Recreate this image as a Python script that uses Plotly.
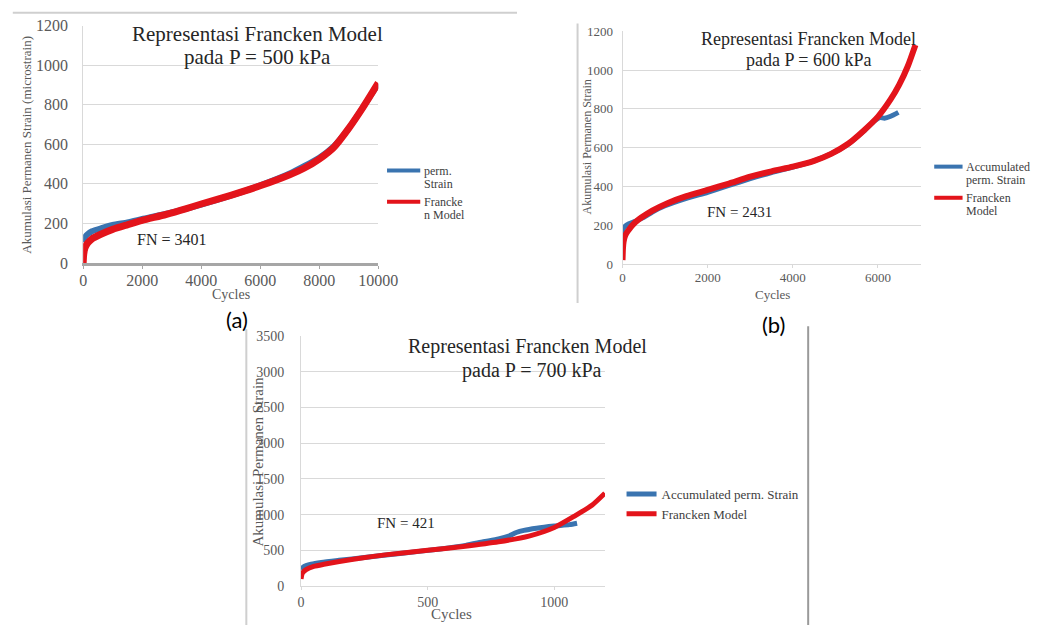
import plotly.graph_objects as go

W, H = 1049, 634

# ---- Panel (a): P = 500 kPa ----
a_meas_cycles = [0, 10, 50, 150, 300, 600, 1000, 1500, 2000, 3000, 4000, 5000, 6000, 7000, 8000, 8500, 9000, 9500, 10000]
a_meas_strain = [105, 115, 128, 145, 160, 175, 192, 205, 222, 255, 295, 340, 392, 452, 532, 590, 680, 790, 905]
a_model_cycles = [0, 20, 60, 150, 300, 600, 1000, 1500, 2000, 2800, 3500, 4000, 5000, 6000, 7000, 7500, 8000, 8500, 9000, 9500, 10000]
a_model_strain = [0, 45, 75, 100, 122, 145, 170, 193, 215, 245, 275, 298, 342, 390, 446, 480, 525, 585, 680, 790, 910]

# ---- Panel (b): P = 600 kPa ----
b_meas_cycles = [0, 15, 60, 150, 300, 500, 700, 1000, 1500, 2000, 2500, 3000, 3500, 4000, 4500, 4900, 5300, 5650, 5900, 6050, 6150, 6300, 6480]
b_meas_strain = [150, 180, 195, 208, 220, 240, 268, 300, 338, 370, 405, 440, 472, 500, 532, 568, 618, 682, 735, 755, 752, 762, 782]
b_model_cycles = [0, 10, 25, 60, 120, 300, 700, 1070, 1500, 2000, 2500, 3000, 3500, 4000, 4500, 4900, 5300, 5650, 6000, 6300, 6500, 6700, 6880]
b_model_strain = [20, 80, 115, 145, 168, 215, 275, 315, 350, 382, 415, 450, 478, 502, 532, 568, 620, 685, 760, 850, 925, 1020, 1130]

# ---- Panel (c): P = 700 kPa ----
c_meas_cycles = [0, 10, 40, 80, 150, 250, 400, 550, 650, 720, 780, 820, 850, 880, 930, 1000, 1060, 1090]
c_meas_strain = [230, 270, 305, 330, 360, 400, 460, 520, 570, 620, 660, 700, 750, 780, 810, 840, 860, 880]
c_model_cycles = [0, 5, 20, 50, 90, 200, 340, 500, 640, 780, 900, 1000, 1080, 1150, 1200]
c_model_strain = [100, 180, 230, 275, 305, 372, 440, 500, 555, 620, 700, 820, 980, 1135, 1300]

panel_titles = [("Representasi Francken Model", "pada P = 500 kPa"),
                ("Representasi Francken Model", "pada P = 600 kPa"),
                ("Representasi Francken Model", "pada P = 700 kPa")]
fn_labels = ["FN = 3401", "FN = 2431", "FN = 421"]
a_names = [("perm.", "Strain"), ("Francke", "n Model")]
b_names = [("Accumulated", "perm. Strain"), ("Francken", "Model")]
c_names = ["Accumulated perm. Strain", "Francken Model"]
y_titles = ["Akumulasi Permanen Strain (microstrain)", "Akumulasi Permanen Strain", "Akumulasi Permanen Strain"]
x_title = "Cycles"
panel_tags = ["(a)", "(b)"]

BLUE = "#3a74b0"
RED = "#e3141b"
GRID = "#d9d9d9"
TXT = "#595959"
LEG = "#404040"
SERIF = "Liberation Serif"


def px(x):
    return x / W


def py(y):
    return 1 - y / H


fig = go.Figure()

panels = [
    ("x", "y", a_meas_cycles, a_meas_strain, a_model_cycles, a_model_strain,
     ["<br>".join(n) for n in a_names], 6, 7, False),
    ("x2", "y2", b_meas_cycles, b_meas_strain, b_model_cycles, b_model_strain,
     ["<br>".join(n) for n in b_names], 5, 6, False),
    ("x3", "y3", c_meas_cycles, c_meas_strain, c_model_cycles, c_model_strain, c_names, 5, 5, True),
]
for xa, ya, mx, my, fx, fy, names, wb, wr, show in panels:
    fig.add_trace(go.Scatter(x=mx, y=my, mode="lines", name=names[0], xaxis=xa, yaxis=ya,
                             showlegend=show,
                             line=dict(color=BLUE, width=wb, shape="spline", smoothing=0.6)))
    fig.add_trace(go.Scatter(x=fx, y=fy, mode="lines", name=names[1], xaxis=xa, yaxis=ya,
                             showlegend=show,
                             line=dict(color=RED, width=wr, shape="spline", smoothing=0.6)))


def yaxis(dom, rng, dtick, size, anchor, standoff):
    return dict(domain=dom, range=rng, dtick=dtick, anchor=anchor, showgrid=True, gridcolor=GRID,
                gridwidth=1, zeroline=False, showline=True, linecolor=GRID, linewidth=1, ticks="",
                tickformat="d", ticklabelstandoff=standoff,
                tickfont=dict(family=SERIF, size=size, color=TXT), fixedrange=True)


def xaxis(dom, rng, dtick, size, anchor, lc, lw, standoff):
    return dict(domain=dom, range=rng, dtick=dtick, anchor=anchor, showgrid=False, zeroline=False,
                showline=True, linecolor=lc, linewidth=lw, ticks="outside", ticklen=3, tickcolor=lc,
                tickformat="d", ticklabelstandoff=standoff,
                tickfont=dict(family=SERIF, size=size, color=TXT), fixedrange=True)


fig.update_layout(
    width=W, height=H, margin=dict(l=0, r=0, t=0, b=0),
    paper_bgcolor="white", plot_bgcolor="white",
    xaxis=xaxis([px(81), px(383)], [0, 10000], 2000, 16, "y", "#a6a6a6", 3, -2),
    yaxis=yaxis([py(262), py(18)], [0, 1200], 200, 16, "x", 11),
    xaxis2=xaxis([px(633), px(938)], [0, 7000], 2000, 13, "y2", GRID, 1, -2),
    yaxis2=yaxis([py(263), py(24)], [0, 1200], 200, 13, "x2", 6),
    xaxis3=xaxis([px(304), px(615)], [0, 1200], 500, 14, "y3", GRID, 1, 0),
    yaxis3=yaxis([py(594), py(337)], [0, 3500], 500, 14, "x3", 13),
    legend=dict(x=px(632), y=py(484), xanchor="left", yanchor="top",
                font=dict(family=SERIF, size=13, color=LEG), bgcolor="rgba(0,0,0,0)",
                tracegroupgap=0, itemclick=False),
)

annotations = []


def text(x, y, s, size, color="#262626", family=SERIF, angle=0, anchor="center"):
    annotations.append(dict(x=px(x), y=py(y), xref="paper", yref="paper", text=s, showarrow=False,
                            xanchor=anchor, yanchor="middle", textangle=angle,
                            font=dict(family=family, size=size, color=color)))


# panel titles
text(259, 27, panel_titles[0][0], 21)
text(259, 50, panel_titles[0][1], 21)
text(823, 32, panel_titles[1][0], 18)
text(823, 53, panel_titles[1][1], 18)
text(536, 348, panel_titles[2][0], 20)
text(540, 372, panel_titles[2][1], 20)

# FN labels
text(171, 238, fn_labels[0], 16)
text(753, 210, fn_labels[1], 15)
text(411, 529, fn_labels[2], 15)

# axis titles
text(23, 140, y_titles[0], 13, TXT, angle=-90)
text(597, 143, y_titles[1], 12, TXT, angle=-90)
text(259, 466, y_titles[2], 15, TXT, angle=-90)
text(232, 294, x_title, 14, TXT)
text(787, 294, x_title, 13, TXT)
text(458, 623, x_title, 15, TXT)

# panel tags
text(238, 320, panel_tags[0], 22, "#000000", "Lato")
text(788, 325, panel_tags[1], 22, "#000000", "Lato")

# two-line keys for panels (a) and (b): (key line x0, x1, text x, rows)
keys = [
    (392, 426, 428, [(167, BLUE, a_names[0]), (199, RED, a_names[1])]),
    (952, 981, 982, [(163, BLUE, b_names[0]), (195, RED, b_names[1])]),
]
key_shapes = []
for kx0, kx1, tx, rows in keys:
    for yk, col, (l1, l2) in rows:
        text(tx, yk, l1, 12, LEG, anchor="left")
        text(tx, yk + 14, l2, 12, LEG, anchor="left")
        key_shapes.append(dict(type="line", xref="paper", yref="paper", x0=px(kx0), x1=px(kx1),
                               y0=py(yk), y1=py(yk), line=dict(color=col, width=4)))

fig.update_layout(annotations=annotations)

# frame lines around the panels
frame = [
    (9, 5, 525, 5, "#cfcfcf"),
    (587, 16, 587, 303, "#cfcfcf"),
    (248, 330, 248, 634, "#cfcfcf"),
    (823, 327, 823, 634, "#9a9a9a"),
]
shapes = [dict(type="line", xref="paper", yref="paper", x0=px(x0), y0=py(y0),
               x1=px(x1), y1=py(y1), line=dict(color=c, width=2))
          for x0, y0, x1, y1, c in frame]
fig.update_layout(shapes=shapes + key_shapes)

fig.write_html("out.html", config={"displayModeBar": False})
